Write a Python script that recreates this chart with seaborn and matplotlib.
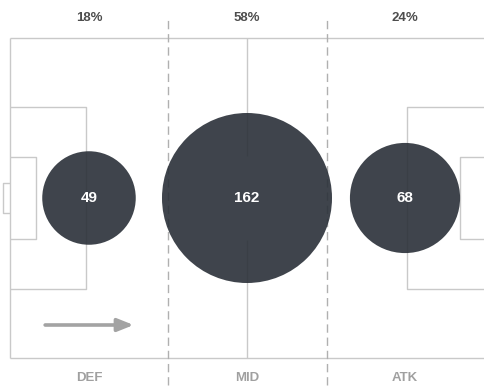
import matplotlib
matplotlib.use("Agg")
import matplotlib.pyplot as plt
import pandas as pd
import seaborn as sns

# Pass counts per pitch third
zones = ["DEF", "MID", "ATK"]
counts = [49, 162, 68]
shares = ["18%", "58%", "24%"]
zone_centres = [20, 60, 100]

df = pd.DataFrame({"zone": zones, "count": counts, "x": zone_centres,
                   "y": [40] * len(zones)})

sns.set_theme(style="white")
plt.rcParams["font.family"] = ["Liberation Sans", "DejaVu Sans"]

fig = plt.figure(figsize=(4.84, 3.9), dpi=100)
ax = fig.add_axes([0, 0, 1, 1])
ax.set_xlim(-2.53, 120)
ax.set_ylim(-8, 89.5)
ax.axis("off")

line_c = "#c9c9c9"
lw = 1.0

def seg(xs, ys, **kw):
    ax.plot(xs, ys, color=line_c, lw=lw, zorder=1, solid_capstyle="butt", **kw)

# pitch outline (120 x 80)
seg([0, 120], [80, 80])
seg([0, 120], [0, 0])
seg([0, 0], [0, 80])
# halfway line, broken around the centre
seg([60, 60], [80, 50.5])
seg([60, 60], [29.5, 0])
# penalty areas
seg([0, 19.2, 19.2, 0], [62.75, 62.75, 17.25, 17.25])
seg([120, 100.6, 100.6, 120], [62.75, 62.75, 17.25, 17.25])
# six-yard boxes
seg([0, 6.6, 6.6, 0], [50.25, 50.25, 29.75, 29.75])
seg([120, 113.9, 113.9, 120], [50.25, 50.25, 29.75, 29.75])
# goal
seg([0, -1.8, -1.8, 0], [43.75, 43.75, 36.25, 36.25])

# thirds dividers
for xv in (40, 80.25):
    ax.plot([xv, xv], [-6.75, 84.5], color="#b0b0b0", lw=1.0,
            ls=(0, (6, 3.5)), zorder=1)

# bubbles sized by pass count (area proportional to value)
k = 92.5
sns.scatterplot(data=df, x="x", y="y", size="count",
                sizes=(min(counts) * k, max(counts) * k),
                size_norm=(min(counts), max(counts)),
                color="#2a3038", alpha=0.9, edgecolor="none",
                legend=False, ax=ax, zorder=3)
ax.set_xlim(-2.53, 120)
ax.set_ylim(-8, 89.5)
ax.set_xlabel("")
ax.set_ylabel("")

for xc, c, s, z in zip(zone_centres, counts, shares, zones):
    ax.text(xc, 40, str(c), ha="center", va="center", color="white",
            fontsize=11, fontweight="bold", zorder=4)
    ax.text(xc, 85, s, ha="center", va="center", color="#4d4d4d",
            fontsize=9.5, fontweight="bold")
    ax.text(xc, -5, z, ha="center", va="center", color="#a0a0a0",
            fontsize=9.5, fontweight="bold")

# direction of play
ax.annotate("", xy=(31.3, 8.25), xytext=(8.9, 8.25),
            arrowprops=dict(arrowstyle="-|>,head_length=0.8,head_width=0.32",
                            color="#a3a3a3", lw=2.6, shrinkA=0, shrinkB=0))

fig.savefig("out.png", dpi=100)
